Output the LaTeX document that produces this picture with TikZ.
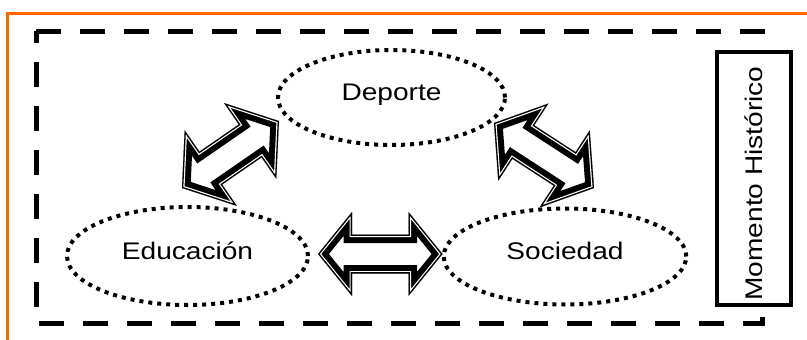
\documentclass[tikz,border=0pt]{standalone}
\usepackage{fontspec}
\setmainfont{Liberation Sans}[FakeStretch=1.17]
\usetikzlibrary{calc,shapes.geometric}
\definecolor{frameorange}{RGB}{255,102,0}
% block double arrow from #1 to #2; #3 head length, #4 head half-width, #5 shaft half-width
\newcommand\blockarrow[5]{%
  \path let \p1=(#1), \p2=(#2), \n1={atan2(\y2-\y1,\x2-\x1)}, \n2={veclen(\x2-\x1,\y2-\y1)} in
    \pgfextra{\xdef\baang{\n1}\xdef\balen{\n2}};
  \pgfmathsetmacro\bab{\balen-#3}%
  \begin{scope}[shift={(#1)},rotate=\baang]
    \def\bashape{(0,0) -- (#3,#4) -- (#3,#5) -- (\bab,#5) -- (\bab,#4) -- (\balen,0) -- (\bab,-#4) -- (\bab,-#5) -- (#3,-#5) -- (#3,-#4) -- cycle}%
    \fill[white] \bashape;
    \begin{scope}
      \clip \bashape;
      \draw[black,line width=17pt] \bashape;
      \draw[white,line width=5pt] \bashape;
      \draw[black,line width=2.6pt] \bashape;
    \end{scope}
  \end{scope}}
\tikzset{
  topic/.style={ellipse, draw, line width=4pt, dash pattern=on 4pt off 5pt,
    inner sep=0pt, font=\fontsize{24}{28}\selectfont, text height=18pt, text depth=11.8pt},
  periodbox/.style={draw, line width=4pt, fill=white, rotate=90, minimum width=253pt,
    minimum height=74pt, inner sep=0pt, font=\fontsize{24}{28}\selectfont,
    text height=18pt, text depth=0.8pt},
  frameline/.style={line width=5pt, dash pattern=on 25pt off 19pt, line join=miter},
  orangeline/.style={frameorange, line width=3pt}
}
\begin{document}
\begin{tikzpicture}[x=1pt,y=-1pt]
  \fill[white] (0,0) rectangle (807,340);
  \useasboundingbox (0,0) rectangle (807,340);
  % orange outer frame (top and left)
  \draw[orangeline] (7.5,340) -- (7.5,13.5) -- (807,13.5);
  % dashed frame
  \draw[frameline] (36,31) -- (762,31) -- (762,323) -- (36,323) -- cycle;
  % topics
  \node[topic, minimum width=227pt, minimum height=95pt] (dep) at (391.5,97.5) {Deporte};
  \node[topic, minimum width=241pt, minimum height=98pt] (edu) at (187.5,256) {Educación};
  \node[topic, minimum width=242.5pt, minimum height=96pt] (soc) at (565,256.5) {Sociedad};
  % arrow end points
  \coordinate (a1) at (182,188);
  \coordinate (a2) at (279,121);
  \coordinate (b1) at (494,123);
  \coordinate (b2) at (594,188);
  \coordinate (c1) at (318,254);
  \coordinate (c2) at (442.5,254);
  \blockarrow{a1}{a2}{35}{46}{20}
  \blockarrow{b1}{b2}{35}{46}{20}
  \blockarrow{c1}{c2}{34}{42}{19.5}
  % historical moment box
  \node[periodbox] (hist) at (754,178.5) {Momento Histórico\hspace*{10pt}};
\end{tikzpicture}
\end{document}
